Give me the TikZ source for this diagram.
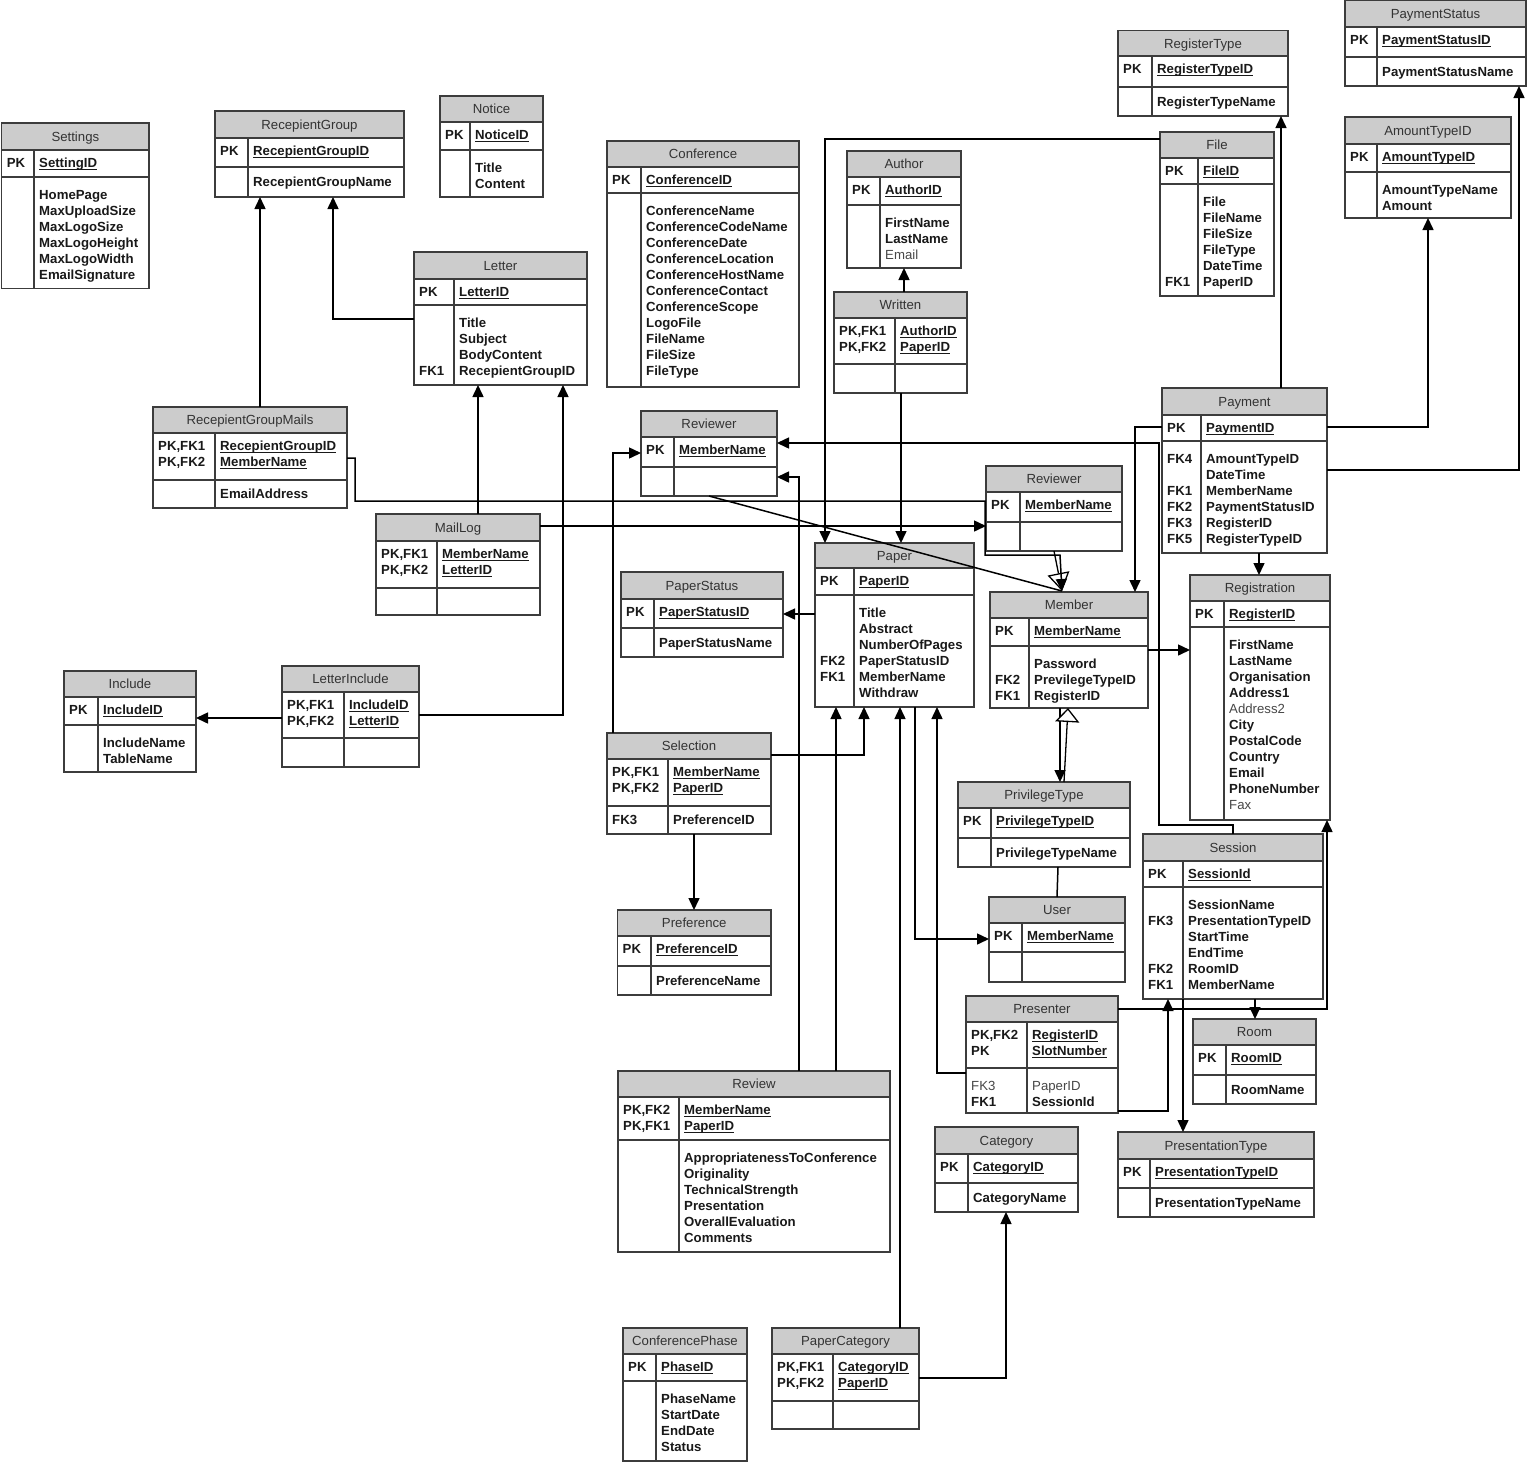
\documentclass[tikz,border=0pt]{standalone}
\usepackage{fontspec}
\setmainfont{Liberation Sans}
\usetikzlibrary{arrows.meta}
\definecolor{hdrfill}{HTML}{CCCCCC}
\definecolor{boxline}{HTML}{3C3C3C}
\definecolor{titlecol}{HTML}{333333}
\definecolor{softtext}{HTML}{474747}
\newcommand{\uu}[1]{\setbox0=\hbox{#1}\rlap{\rule[-2.4pt]{\wd0}{0.9pt}}\box0}
\newcommand{\nb}[1]{{\mdseries\color{softtext}#1}}
\newcommand{\E}{\mbox{}}
\tikzset{
  tablebox/.style={draw=boxline, line width=1.2pt, inner sep=0pt, outer sep=0pt, rectangle},
  tableline/.style={draw=boxline, line width=1.2pt},
  titletext/.style={font=\fontsize{13.2}{16}\selectfont, text=titlecol, inner sep=0pt, anchor=base},
  cell/.style={font=\fontsize{13.2}{16}\selectfont\bfseries, text=black!90, inner sep=0pt, anchor=north west},
  fk/.style={draw=black, line width=1.5pt, -{Triangle[length=12pt,width=11pt]}},
  plain/.style={draw=black, line width=1.5pt},
  gen/.style={draw=black, line width=1.3pt, -{Triangle[length=14pt,width=24pt,fill=white]}},
  genopen/.style={draw=black, line width=1.3pt, -{Triangle[open,length=18pt,width=22pt]}},
}
% id, left, top, right, divider, header bottom, pk bottom, bottom, title
\newcommand{\ertab}[9]{%
  \fill[hdrfill] (#2,#3) rectangle (#4,#6);
  \draw[tableline] (#2,#6) -- (#4,#6) (#2,#7) -- (#4,#7) (#5,#6) -- (#5,#8);
  \node[tablebox, anchor=north west, minimum width={(#4-(#2))*1pt}, minimum height={(#8-(#3))*1pt}] (#1) at (#2,#3) {};
  \node[titletext] (#1-t) at ({(#2+#4)/2},{(#3+#6)/2+4.7}) {#9};
  \pgfmathsetmacro\aoff{min(11,(#8-#7)/2-6.5)}%
  \coordinate (#1-k1) at ({#2+5},{#6+6.5});
  \coordinate (#1-f1) at ({#5+5},{#6+6.5});
  \coordinate (#1-k2) at ({#2+5},{#7+\aoff});
  \coordinate (#1-f2) at ({#5+5},{#7+\aoff});
}
\newcommand{\erk}[2]{\node[cell] at (#1) {\begin{tabular}{@{}l@{}}#2\end{tabular}};}

\begin{document}
\begin{tikzpicture}[x=1pt,y=-1pt]
\useasboundingbox (0,0) rectangle (1527,1462);
\fill[white] (0,0) rectangle (1527,1462);

% ---------- tables ----------
\ertab{settings}{1.7}{123}{149}{34}{150}{177}{288.5}{Settings}
\erk{settings-k1}{PK}\erk{settings-f1}{\uu{SettingID}}
\erk{settings-f2}{HomePage\\MaxUploadSize\\MaxLogoSize\\MaxLogoHeight\\MaxLogoWidth\\EmailSignature}

\ertab{rgroup}{215}{111}{404}{248}{138}{167}{197}{RecepientGroup}
\erk{rgroup-k1}{PK}\erk{rgroup-f1}{\uu{RecepientGroupID}}\erk{rgroup-f2}{RecepientGroupName}

\ertab{notice}{440}{96}{543}{470}{122}{150}{197}{Notice}
\erk{notice-k1}{PK}\erk{notice-f1}{\uu{NoticeID}}\erk{notice-f2}{Title\\Content}

\ertab{conf}{607}{141}{799}{641}{167}{193}{387}{Conference}
\erk{conf-k1}{PK}\erk{conf-f1}{\uu{ConferenceID}}
\erk{conf-f2}{ConferenceName\\ConferenceCodeName\\ConferenceDate\\ConferenceLocation\\ConferenceHostName\\ConferenceContact\\ConferenceScope\\LogoFile\\FileName\\FileSize\\FileType}

\ertab{author}{847}{151}{961}{880}{177}{205}{268}{Author}
\erk{author-k1}{PK}\erk{author-f1}{\uu{AuthorID}}\erk{author-f2}{FirstName\\LastName\\\nb{Email}}

\ertab{written}{834}{292}{967}{895}{318}{364}{393}{Written}
\erk{written-k1}{PK,FK1\\PK,FK2}\erk{written-f1}{\uu{AuthorID}\\\uu{PaperID}}

\ertab{regtype}{1118}{30.7}{1288}{1152}{56}{87}{116}{RegisterType}
\erk{regtype-k1}{PK}\erk{regtype-f1}{\uu{RegisterTypeID}}\erk{regtype-f2}{RegisterTypeName}

\ertab{file}{1160}{132}{1274}{1198}{158}{184}{296}{File}
\erk{file-k1}{PK}\erk{file-f1}{\uu{FileID}}
\erk{file-k2}{\E\\\E\\\E\\\E\\\E\\FK1}\erk{file-f2}{File\\FileName\\FileSize\\FileType\\DateTime\\PaperID}

\ertab{paystat}{1345}{0.7}{1526}{1377}{27}{57}{86}{PaymentStatus}
\erk{paystat-k1}{PK}\erk{paystat-f1}{\uu{PaymentStatusID}}\erk{paystat-f2}{PaymentStatusName}

\ertab{amount}{1345}{117}{1511}{1377}{144}{172}{218}{AmountTypeID}
\erk{amount-k1}{PK}\erk{amount-f1}{\uu{AmountTypeID}}\erk{amount-f2}{AmountTypeName\\Amount}

\ertab{payment}{1162}{388}{1327}{1201}{415}{441}{553}{Payment}
\erk{payment-k1}{PK}\erk{payment-f1}{\uu{PaymentID}}
\erk{payment-k2}{FK4\\\E\\FK1\\FK2\\FK3\\FK5}
\erk{payment-f2}{AmountTypeID\\DateTime\\MemberName\\PaymentStatusID\\RegisterID\\RegisterTypeID}

\ertab{registration}{1190}{575}{1330}{1224}{601}{627}{820}{Registration}
\erk{registration-k1}{PK}\erk{registration-f1}{\uu{RegisterID}}
\erk{registration-f2}{FirstName\\LastName\\Organisation\\Address1\\\nb{Address2}\\City\\PostalCode\\Country\\Email\\PhoneNumber\\\nb{Fax}}

\ertab{rgmails}{153}{407}{347}{215}{433}{480}{508}{RecepientGroupMails}
\erk{rgmails-k1}{PK,FK1\\PK,FK2}\erk{rgmails-f1}{\uu{RecepientGroupID}\\\uu{MemberName}}
\erk{rgmails-f2}{EmailAddress}

\ertab{letter}{414}{252}{587}{454}{279}{305}{385}{Letter}
\erk{letter-k1}{PK}\erk{letter-f1}{\uu{LetterID}}
\erk{letter-k2}{\E\\\E\\\E\\FK1}\erk{letter-f2}{Title\\Subject\\BodyContent\\RecepientGroupID}

\ertab{maillog}{376}{514}{540}{437}{541}{588}{615}{MailLog}
\erk{maillog-k1}{PK,FK1\\PK,FK2}\erk{maillog-f1}{\uu{MemberName}\\\uu{LetterID}}

\ertab{letinc}{282}{666}{419}{344}{692}{738}{767}{LetterInclude}
\erk{letinc-k1}{PK,FK1\\PK,FK2}\erk{letinc-f1}{\uu{IncludeID}\\\uu{LetterID}}

\ertab{include}{64}{671}{196}{98}{697}{725}{772}{Include}
\erk{include-k1}{PK}\erk{include-f1}{\uu{IncludeID}}\erk{include-f2}{IncludeName\\TableName}

\ertab{reviewer}{641}{411}{777}{674}{437}{467}{496}{Reviewer}
\erk{reviewer-k1}{PK}\erk{reviewer-f1}{\uu{MemberName}}

\ertab{reviewer2}{986}{466}{1122}{1020}{492}{522}{551}{Reviewer}
\erk{reviewer2-k1}{PK}\erk{reviewer2-f1}{\uu{MemberName}}

\ertab{paper}{815}{543}{974}{854}{568}{595}{707}{Paper}
\erk{paper-k1}{PK}\erk{paper-f1}{\uu{PaperID}}
\erk{paper-k2}{\E\\\E\\\E\\FK2\\FK1}
\erk{paper-f2}{Title\\Abstract\\NumberOfPages\\PaperStatusID\\MemberName\\Withdraw}

\ertab{papstat}{621}{572}{783}{654}{599}{628}{657}{PaperStatus}
\erk{papstat-k1}{PK}\erk{papstat-f1}{\uu{PaperStatusID}}\erk{papstat-f2}{PaperStatusName}

\ertab{member}{990}{592}{1148}{1029}{618}{646}{708}{Member}
\erk{member-k1}{PK}\erk{member-f1}{\uu{MemberName}}
\erk{member-k2}{\E\\FK2\\FK1}\erk{member-f2}{Password\\PrevilegeTypeID\\RegisterID}

\ertab{privtype}{958}{782}{1130}{991}{808}{838}{867}{PrivilegeType}
\erk{privtype-k1}{PK}\erk{privtype-f1}{\uu{PrivilegeTypeID}}\erk{privtype-f2}{PrivilegeTypeName}

\ertab{user}{989}{897}{1125}{1022}{923}{952}{982}{User}
\erk{user-k1}{PK}\erk{user-f1}{\uu{MemberName}}

\ertab{selection}{607}{733}{771}{668}{759}{806}{834}{Selection}
\erk{selection-k1}{PK,FK1\\PK,FK2}\erk{selection-f1}{\uu{MemberName}\\\uu{PaperID}}
\erk{selection-k2}{FK3}\erk{selection-f2}{PreferenceID}

\ertab{preference}{617.5}{910}{771}{651}{936}{966}{995}{Preference}
\erk{preference-k1}{PK}\erk{preference-f1}{\uu{PreferenceID}}\erk{preference-f2}{PreferenceName}

\ertab{presenter}{966}{996}{1118}{1027}{1022}{1068}{1113}{Presenter}
\erk{presenter-k1}{PK,FK2\\PK}\erk{presenter-f1}{\uu{RegisterID}\\\uu{SlotNumber}}
\erk{presenter-k2}{\nb{FK3}\\FK1}\erk{presenter-f2}{\nb{PaperID}\\SessionId}

\ertab{session}{1143}{834}{1323}{1183}{861}{887}{999}{Session}
\erk{session-k1}{PK}\erk{session-f1}{\uu{SessionId}}
\erk{session-k2}{\E\\FK3\\\E\\\E\\FK2\\FK1}
\erk{session-f2}{SessionName\\PresentationTypeID\\StartTime\\EndTime\\RoomID\\MemberName}

\ertab{room}{1193}{1019}{1316}{1226}{1045}{1075}{1104}{Room}
\erk{room-k1}{PK}\erk{room-f1}{\uu{RoomID}}\erk{room-f2}{RoomName}

\ertab{prestype}{1118}{1132}{1314}{1150}{1159}{1188}{1217}{PresentationType}
\erk{prestype-k1}{PK}\erk{prestype-f1}{\uu{PresentationTypeID}}\erk{prestype-f2}{PresentationTypeName}

\ertab{category}{935}{1127}{1078}{968}{1154}{1183}{1212}{Category}
\erk{category-k1}{PK}\erk{category-f1}{\uu{CategoryID}}\erk{category-f2}{CategoryName}

\ertab{review}{618}{1071}{890}{679}{1097}{1140}{1252}{Review}
\erk{review-k1}{PK,FK2\\PK,FK1}\erk{review-f1}{\uu{MemberName}\\\uu{PaperID}}
\erk{review-f2}{AppropriatenessToConference\\Originality\\TechnicalStrength\\Presentation\\OverallEvaluation\\Comments}

\ertab{confphase}{623}{1328}{747}{656}{1354}{1381}{1461}{ConferencePhase}
\erk{confphase-k1}{PK}\erk{confphase-f1}{\uu{PhaseID}}
\erk{confphase-f2}{PhaseName\\StartDate\\EndDate\\Status}

\ertab{papcat}{772}{1328}{919}{833}{1354}{1401}{1429}{PaperCategory}
\erk{papcat-k1}{PK,FK1\\PK,FK2}\erk{papcat-f1}{\uu{CategoryID}\\\uu{PaperID}}

% ---------- connectors ----------
\coordinate (mtip) at (1062,591);
\draw[fk] (260,0 |- rgmails.north) -- (260,0 |- rgroup.south);
\draw[fk] (letter.west |- 0,319) -- (333,319) -- (333,0 |- rgroup.south);
\draw[fk] (478,0 |- maillog.north) -- (478,0 |- letter.south);
\draw[fk] (letinc.east |- 0,715) -- (563,715) -- (563,0 |- letter.south);
\draw[fk] (letinc.west |- 0,718) -- (include.east |- 0,718);
\draw[plain] (709,0 |- reviewer.south) -- (mtip);
\draw[genopen] (1054,0 |- reviewer2.south) -- (mtip);
\draw[fk] (rgmails.east |- 0,458) -- (355,458) -- (355,501) -- (985,501) -- (985,555) -- (1060,555) -- (mtip);
\draw[fk] (maillog.east |- 0,526) -- (reviewer2.west |- 0,526);
\draw[fk] (file.west |- 0,139) -- (825,139) -- (825,0 |- paper.north);
\draw[fk] (901,0 |- written.south) -- (901,0 |- paper.north);
\draw[fk] (904,0 |- written.north) -- (904,0 |- author.south);
\draw[fk] (payment.west |- 0,427) -- (1135,427) -- (1135,0 |- member.north);
\draw[fk] (1233,0 |- session.north) -- (1233,825) -- (1159,825) -- (1159,443) -- (reviewer.east |- 0,443);
\draw[fk] (799,0 |- review.north) -- (799,477) -- (reviewer.east |- 0,477);
\draw[fk] (836,0 |- review.north) -- (836,0 |- paper.south);
\draw[fk] (613,0 |- selection.north) -- (613,453) -- (reviewer.west |- 0,453);
\draw[fk] (selection.east |- 0,755) -- (864,755) -- (864,0 |- paper.south);
\draw[fk] (694,0 |- selection.south) -- (694,0 |- preference.north);
\draw[fk] (900,0 |- papcat.north) -- (900,0 |- paper.south);
\draw[fk] (presenter.west |- 0,1073) -- (937,1073) -- (937,0 |- paper.south);
\draw[fk] (915,0 |- paper.south) -- (915,939) -- (user.west |- 0,939);
\draw[fk] (paper.west |- 0,614) -- (papstat.east |- 0,614);
\draw[fk] (member.east |- 0,650) -- (registration.west |- 0,650);
\draw[fk] (1060,0 |- member.south) -- (1060,0 |- privtype.north);
\draw[gen] (1064,0 |- privtype.north) -- (1068,0 |- member.south);
\draw[plain] (1058,0 |- privtype.south) -- (1057,0 |- user.north);
\draw[fk] (1281,0 |- payment.north) -- (1281,0 |- regtype.south);
\draw[fk] (payment.east |- 0,427) -- (1428,427) -- (1428,0 |- amount.south);
\draw[fk] (payment.east |- 0,470) -- (1519,470) -- (1519,0 |- paystat.south);
\draw[fk] (1259,0 |- payment.south) -- (1259,0 |- registration.north);
\draw[fk] (1255,0 |- session.south) -- (1255,0 |- room.north);
\draw[fk] (1183,0 |- session.south) -- (1183,0 |- prestype.north);
\draw[fk] (presenter.east |- 0,1009) -- (1327,1009) -- (1327,0 |- registration.south);
\draw[fk] (presenter.east |- 0,1111) -- (1168,1111) -- (1168,0 |- session.south);
\draw[fk] (papcat.east |- 0,1378) -- (1006,1378) -- (1006,0 |- category.south);
\end{tikzpicture}
\end{document}
